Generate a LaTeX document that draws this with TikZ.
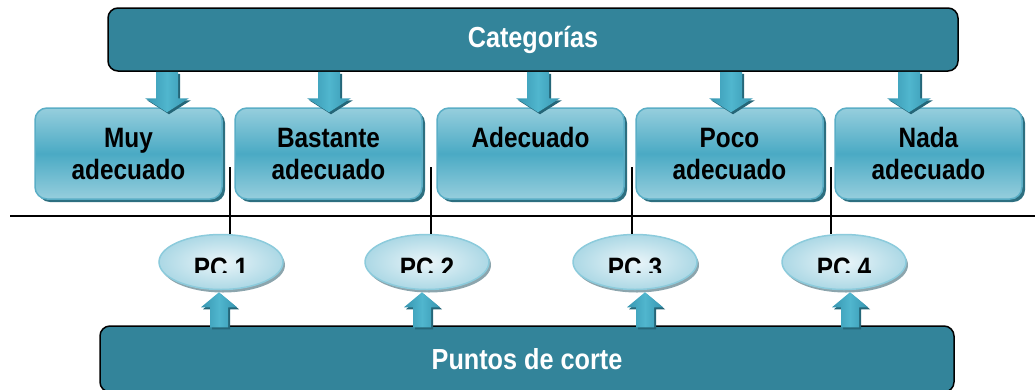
\documentclass[tikz,border=0pt]{standalone}
\usepackage{fontspec}
\setmainfont{Liberation Sans}
\newfontfamily\narrowsans[FakeStretch=0.87]{Liberation Sans}
\usetikzlibrary{shapes.geometric,shadows,calc}

\definecolor{barblue}{RGB}{51,132,154}
\definecolor{boxlight}{RGB}{150,206,221}
\definecolor{boxmid}{RGB}{74,170,196}
\definecolor{boxedge}{RGB}{90,174,198}
\definecolor{boxshadow}{RGB}{45,111,128}
\definecolor{pclight}{RGB}{234,245,249}
\definecolor{pcdark}{RGB}{172,216,229}
\definecolor{pcedge}{RGB}{140,203,220}
\definecolor{pcshadow}{RGB}{140,165,173}
\definecolor{arrowmid}{RGB}{80,182,206}
\definecolor{arrowside}{RGB}{55,150,177}
\definecolor{arrowdark}{RGB}{37,102,120}

\tikzset{
  barra/.style={rounded corners=10pt, draw=black, line width=1.5pt, fill=barblue,
    text=white, font=\narrowsans\bfseries\fontsize{29}{32}\selectfont},
  categoria/.style={rounded corners=12pt, draw=boxedge, line width=1.5pt,
    top color=boxlight, bottom color=boxlight, middle color=boxmid,
    drop shadow={shadow xshift=3pt, shadow yshift=-3pt, fill=boxshadow, opacity=1},
    minimum width=187pt, minimum height=91pt, align=center,
    font=\narrowsans\bfseries\fontsize{28}{32}\selectfont},
  corte/.style={ellipse, draw=pcedge, line width=1.5pt, inner sep=0pt,
    inner color=pclight, outer color=pcdark,
    drop shadow={shadow xshift=2pt, shadow yshift=-3pt, fill=pcshadow, opacity=1},
    minimum width=124pt, minimum height=55pt},
  pctexto/.style={font=\narrowsans\bfseries\fontsize{28}{32}\selectfont},
  flecha/.style={left color=arrowside, right color=arrowside, middle color=arrowmid,
    preaction={fill=arrowdark, transform canvas={xshift=2pt, yshift=-2pt}}}
}

\begin{document}
\begin{tikzpicture}[x=1pt, y=-1pt]
        \useasboundingbox (0,0) rectangle (1035,389);

        % Draw the two bars
        \node[barra, minimum width=850pt, minimum height=63pt] (cat) at (533,39.5) {Categorías};
        \node[barra, minimum width=854pt, minimum height=66pt] (cortes) at (527,359) {Puntos de corte};

        % Add the categories
        \node[categoria] (c1) at (128.5,153.5) {Muy\\adecuado};
        \node[categoria] (c2) at (328.5,153.5) {Bastante\\adecuado};
        \node[categoria] (c3) at (530.5,153.5) {Adecuado\\\phantom{a}};
        \node[categoria] (c4) at (729.5,153.5) {Poco\\adecuado};
        \node[categoria] (c5) at (928.5,153.5) {Nada\\adecuado};

        % Add the cut points
        \node[corte] (pc1) at (221,262) {};
        \node[corte] (pc2) at (427,262) {};
        \node[corte] (pc3) at (635,262) {};
        \node[corte] (pc4) at (844,262) {};

        % Draw the horizontal line
        \coordinate (h0) at (10,216);
        \coordinate (h1) at (1040,216);
        \draw[line width=1.2pt] (h0) -- (h1);

        % Draw the vertical lines down to the cut points
        \foreach \x/\n in {230/1,431/2,632/3,831/4}{
            \coordinate (l\n) at (\x,167);
            \draw[line width=1.2pt] (l\n) -- (l\n |- pc\n.north);
        }

        % Labels of the cut points (cut off at the bottom)
        \begin{scope}
            \clip (0,0) rectangle (1035,272);
            \foreach \n in {1,...,4}
                \node[pctexto] (t\n) at ([yshift=-6pt]pc\n.center) {PC \n};
        \end{scope}

        % Arrows from the top bar to the categories
        \foreach \x/\n in {167/1,329/2,538/3,731/4,909/5}{
            \coordinate (a) at (\x,0 |- cat.south);
            \coordinate (b) at (\x,0 |- c\n.north);
            \shade[flecha] ($(a)+(-11,0)$) -- ($(a)+(11,0)$) -- ($(b)+(11,-9)$) -- ($(b)+(22,-9)$)
                -- ($(b)+(0,5)$) -- ($(b)+(-22,-9)$) -- ($(b)+(-11,-9)$) -- cycle;
        }

        % Arrows from the bottom bar to the cut points
        \foreach \x/\n in {219/1,422/2,645/3,850/4}{
            \coordinate (a) at (\x,0 |- cortes.north);
            \coordinate (b) at (\x,0 |- pc\n.south);
            \shade[flecha] ($(a)+(-9,2)$) -- ($(a)+(9,2)$) -- ($(b)+(9,17)$) -- ($(b)+(18,17)$)
                -- ($(b)+(0,2)$) -- ($(b)+(-18,17)$) -- ($(b)+(-9,17)$) -- cycle;
        }

    \end{tikzpicture}
\end{document}
